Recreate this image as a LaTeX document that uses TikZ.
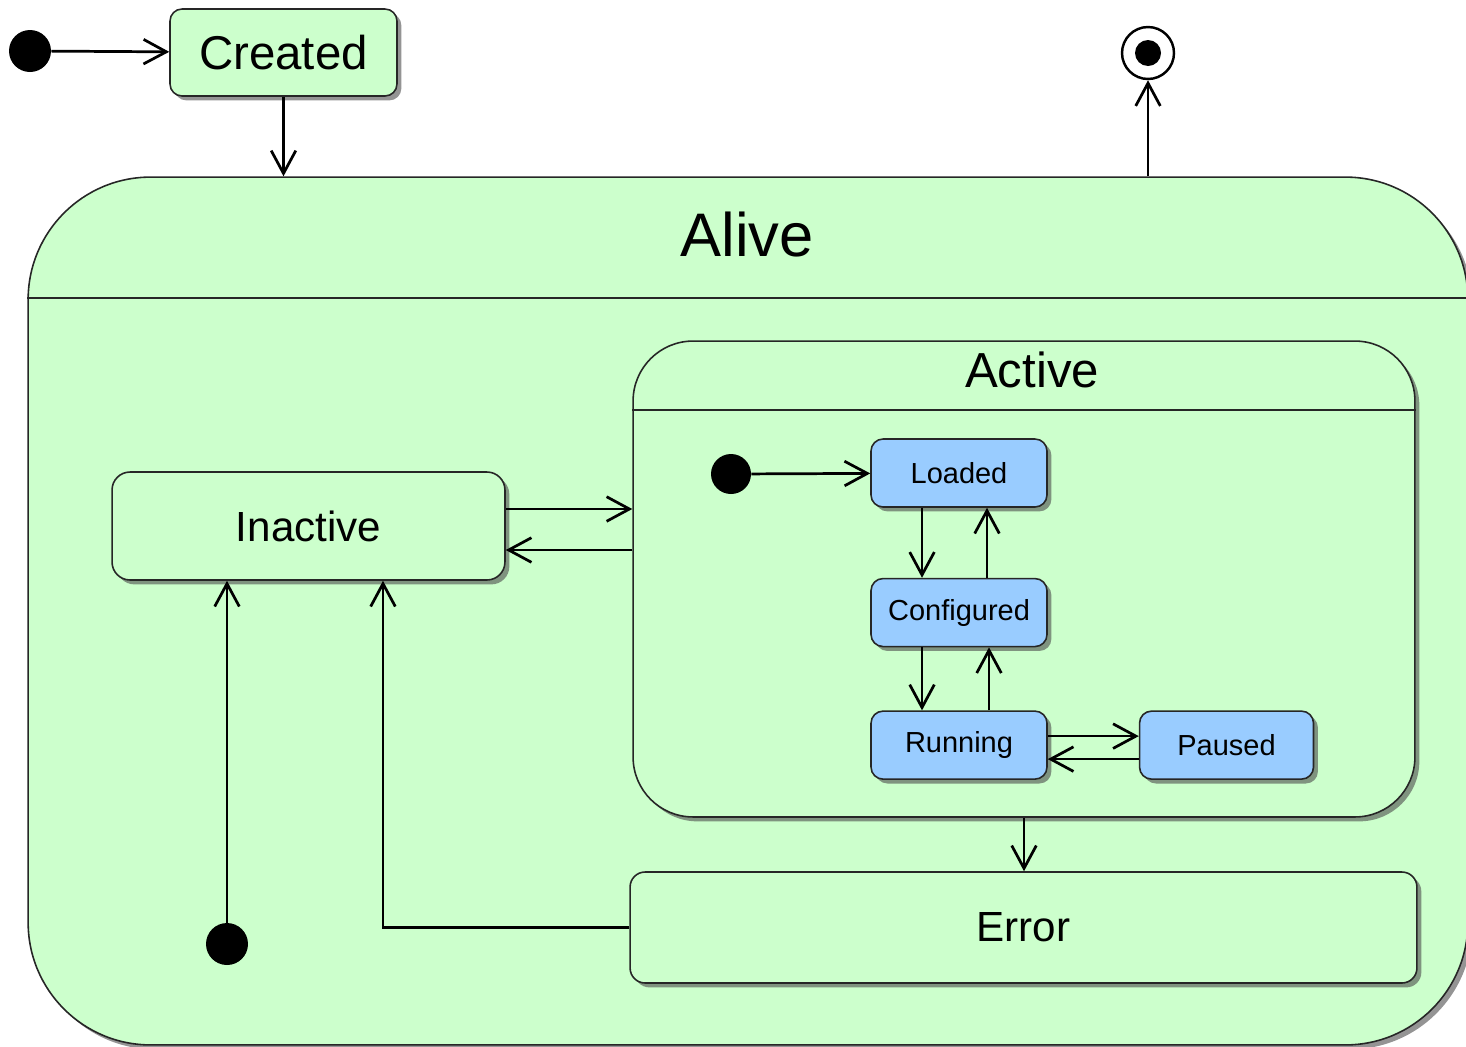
\documentclass[tikz,border=0pt]{standalone}
\usepackage{fontspec}
\setmainfont{Liberation Sans}
\usetikzlibrary{positioning,arrows.meta,shadows}
\definecolor{alivegreen}{HTML}{CCFFCC}
\definecolor{runblue}{HTML}{99CCFF}

\begin{document}
\begin{tikzpicture}[x=0.02cm,y=-0.02cm,>={Straight Barb[length=13pt,width=14pt]},
  state/.style={draw=black!85,line width=0.9pt,rounded corners=#1,
    drop shadow={shadow xshift=2.5pt,shadow yshift=-2.5pt,opacity=0.6,fill=black!70}},
  state/.default=0.24cm,
  greenstate/.style={state=#1,fill=alivegreen},
  greenstate/.default=0.24cm,
  bluestate/.style={state,fill=runblue,minimum width=3.52cm,minimum height=1.36cm,
    font=\fontsize{16.5}{20}\selectfont},
  startdot/.style={circle,fill=black,minimum size=0.84cm,inner sep=0pt},
  trans/.style={->,line width=1.55pt}]

\useasboundingbox (0,0) rectangle (1466,1046);

\node (alive) [greenstate=2.45cm,minimum width=28.8cm,minimum height=17.36cm] at (748,611) {};
\node (alivelabel) at (747,235) {\fontsize{35}{40}\selectfont Alive};
\coordinate (alivediv) at (0,298);
\draw[line width=0.9pt,black!85] (alive.west |- alivediv) -- (alive.east |- alivediv);

\node (active) [greenstate=1.2cm,minimum width=15.64cm,minimum height=9.52cm] at (1024,579) {};
\node (activelabel) at (1032,370) {\fontsize{28}{32}\selectfont Active};
\coordinate (activediv) at (0,410);
\draw[line width=0.9pt,black!85] (active.west |- activediv) -- (active.east |- activediv);

\node (init) [startdot] at (30,51) {};
\node (created) [greenstate,minimum width=4.54cm,minimum height=1.74cm,font=\fontsize{27}{32}\selectfont] at (283.5,52.5) {Created};
\node (final) [circle,draw,line width=1.4pt,minimum size=1.04cm,inner sep=0pt] at (1148,53) {};
\fill (final.center) circle (0.26cm);

\node (inactive) [greenstate=0.36cm,minimum width=7.86cm,minimum height=2.16cm,font=\fontsize{24}{28}\selectfont] at (308.5,526) {Inactive};
\node (error) [greenstate=0.3cm,minimum width=15.74cm,minimum height=2.22cm,font=\fontsize{24}{28}\selectfont] at (1023.5,927.5) {Error};
\node (lastinit) [startdot] at (227,944) {};

\node (activeinit) [startdot,minimum size=0.8cm] at (731,474) {};
\node (loaded) [bluestate] at (959,473) {Loaded};
\node (configured) [bluestate,below=1.4cm of loaded] {Configured};
\node (running) [bluestate,below=1.26cm of configured] {Running};
\node (paused) [bluestate,minimum width=3.48cm,right=1.82cm of running] {Paused};

\draw[trans] (init) -- (created);
\draw[trans] (created) -- (created |- alive.north);
\draw[trans] (final |- alive.north) -- (final);

\draw[trans] ([yshift=0.34cm]inactive.east) -- ([yshift=0.34cm]inactive.east -| active.west);
\draw[trans] ([yshift=-0.48cm]inactive.east -| active.west) -- ([yshift=-0.48cm]inactive.east);
\draw[trans] (lastinit) -- (lastinit |- inactive.south);
\draw[trans] (error.west) -| ([xshift=1.49cm]inactive.south);
\draw[trans] (active.south) -- (active.south |- error.north);

\draw[trans] (activeinit) -- (loaded);
\draw[trans] ([xshift=-0.74cm]loaded.south) -- ([xshift=-0.74cm]configured.north);
\draw[trans] ([xshift=0.56cm]configured.north) -- ([xshift=0.56cm]loaded.south);
\draw[trans] ([xshift=-0.74cm]configured.south) -- ([xshift=-0.74cm]running.north);
\draw[trans] ([xshift=0.6cm]running.north) -- ([xshift=0.6cm]configured.south);
\draw[trans] ([yshift=0.18cm]running.east) -- ([yshift=0.18cm]paused.west);
\draw[trans] ([yshift=-0.28cm]paused.west) -- ([yshift=-0.28cm]running.east);
\end{tikzpicture}
\end{document}
